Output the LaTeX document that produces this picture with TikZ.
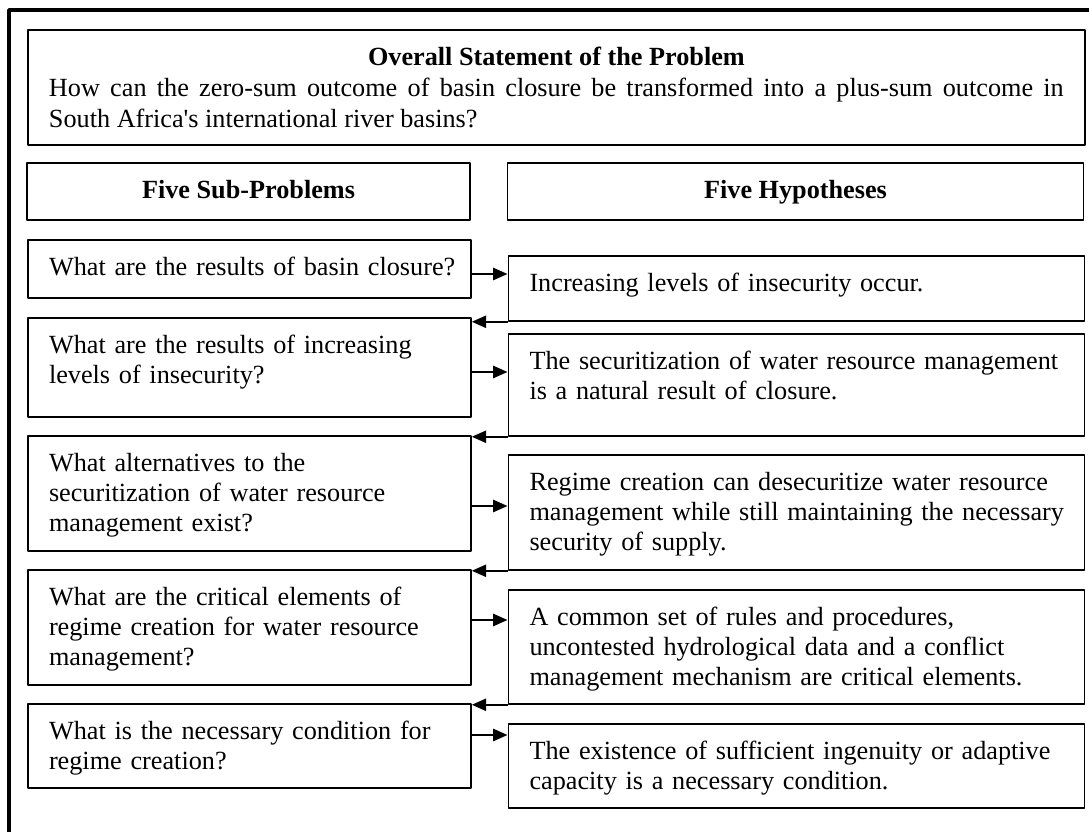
\documentclass[tikz,border=0pt]{standalone}
\usepackage{fontspec}
\setmainfont{Liberation Serif}
\usetikzlibrary{arrows.meta}

\begin{document}
\begin{tikzpicture}[>={Triangle[length=6.5bp,width=5.5bp]},line join=bevel,
  every node/.style={font=\fontsize{11.8bp}{13.6bp}\selectfont},
  box/.style={draw,line width=0.8bp,anchor=north west,inner ysep=0bp,text height=16bp},
  qbox/.style={box,inner xsep=4bp,text width=191.35bp,align=left,
    execute at begin node={\leftskip=5.5bp}},
  hbox/.style={qbox,text width=251.2bp},
  headbox/.style={draw,line width=0.8bp,inner sep=0bp,minimum height=25.65bp,
    text height=9.5bp,text depth=2.75bp,font=\fontsize{11.8bp}{13.6bp}\selectfont\bfseries},
  link/.style={line width=0.9bp}]
\useasboundingbox (0bp,0bp) rectangle (490.05bp,374.4bp);
%% outer frame
\draw [line width=1.8bp] (4.05bp,-5bp) -- (4.05bp,369.9bp) -- (495bp,369.9bp);
%% statement and column heads
\node (stmt) at (12.15bp,361.35bp) [box,inner xsep=9.5bp,text width=456.65bp,align=justify,
  text depth=35.75bp,font=\fontsize{11.8bp}{14bp}\selectfont]
  {\hspace*{\fill}\textbf{Overall Statement of the Problem}\hspace*{\fill}\par
   How can the zero-sum outcome of basin closure be transformed into a plus-sum outcome in\linebreak
   South Africa\textquotesingle s international river basins?};
\node (head_p) at (111.83bp,288.23bp) [headbox,minimum width=199.35bp] {Five Sub-Problems};
\node (head_h) at (357.98bp,288.23bp) [headbox,minimum width=259.2bp] {Five Hypotheses};
%% sub-problems
\node (prob_1) at (12.15bp,266.85bp) [qbox,text depth=10.1bp] {What are the results of basin closure?};
\node (prob_2) at (12.15bp,231.75bp) [qbox,text depth=28.55bp] {What are the results of increasing\\levels of insecurity?};
\node (prob_3) at (12.15bp,178.65bp) [qbox,text depth=35.75bp] {What alternatives to the\\securitization of water resource\\management exist?};
\node (prob_4) at (12.15bp,118.35bp) [qbox,text depth=35.75bp] {What are the critical elements of\\regime creation for water resource\\management?};
\node (prob_5) at (12.15bp,58.05bp) [qbox,text depth=21.8bp] {What is the necessary condition for\\regime creation?};
%% hypotheses
\node (hyp_1) at (228.38bp,259.65bp) [hbox,text depth=13.25bp] {Increasing levels of insecurity occur.};
\node (hyp_2) at (228.38bp,224.55bp) [hbox,text depth=29.9bp] {The securitization of water resource management\\is a natural result of closure.};
\node (hyp_3) at (228.38bp,170.1bp) [hbox,text depth=35.75bp] {Regime creation can desecuritize water resource\\management while still maintaining the necessary\\security of supply.};
\node (hyp_4) at (228.38bp,109.35bp) [hbox,text depth=35.3bp] {A common set of rules and procedures,\\uncontested hydrological data and a conflict\\management mechanism are critical elements.};
\node (hyp_5) at (228.38bp,49.05bp) [hbox,text depth=21.8bp] {The existence of sufficient ingenuity or adaptive\\capacity is a necessary condition.};
%% problem -> hypothesis
\coordinate (out_1) at (211.5bp,251.1bp);
\coordinate (out_2) at (211.5bp,207bp);
\coordinate (out_3) at (211.5bp,146.7bp);
\coordinate (out_4) at (211.5bp,95.4bp);
\coordinate (out_5) at (211.5bp,43.65bp);
\foreach \i in {1,...,5}
  \draw [link,->] (out_\i) -- (out_\i -| hyp_\i.west);
%% hypothesis -> next problem
\foreach \i/\j in {1/2,2/3,3/4,4/5}
  \draw [link,->] (hyp_\i.south west) -- (hyp_\i.south west -| prob_\j.east);
%
\end{tikzpicture}
\end{document}
